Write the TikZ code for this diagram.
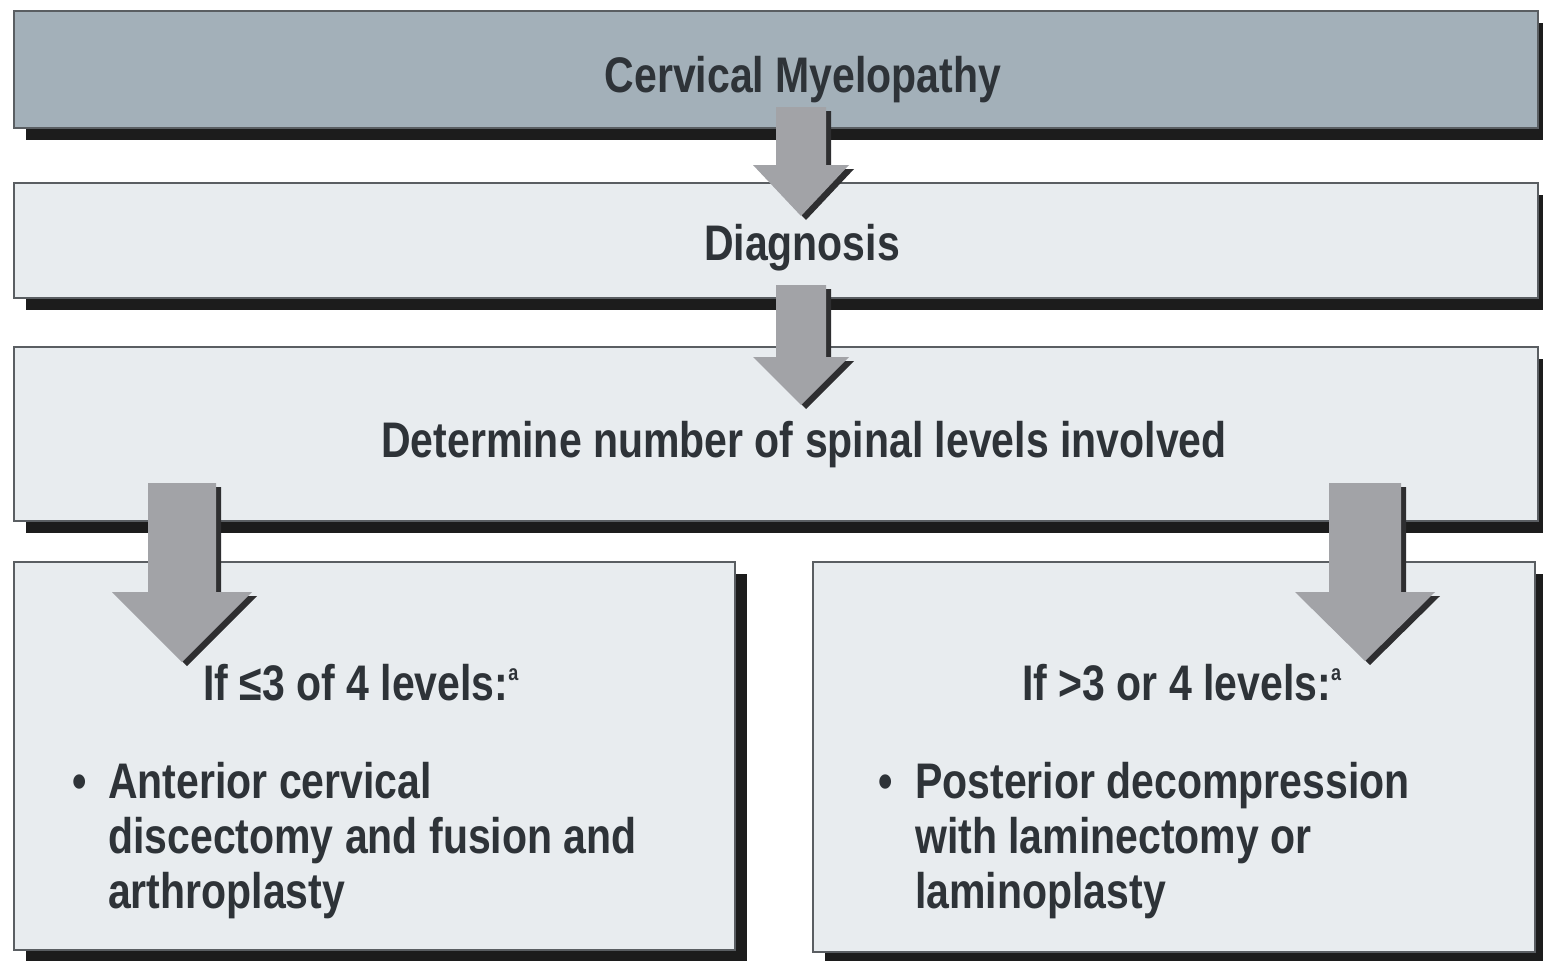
\documentclass[tikz,border=0pt]{standalone}
\usepackage{fontspec}
\setmainfont[FakeStretch=0.82]{Liberation Sans}
\definecolor{topfill}{HTML}{A3B0B9}
\definecolor{lightfill}{HTML}{E8ECEF}
\definecolor{edgegray}{HTML}{5A5E62}
\definecolor{shadowblk}{HTML}{1C1C1C}
\definecolor{arrowgray}{HTML}{A2A3A7}
\definecolor{arrowdark}{HTML}{2E2E30}
\definecolor{txtcol}{HTML}{2E3338}
\newcommand\blockarr[7]{% name, cx, top, shaft hw, base, head hw, tip
  \fill[arrowdark] ($(#2-#4,#3)+(5,4)$) -- ($(#2+#4,#3)+(5,4)$) -- ($(#2+#4,#5)+(5,4)$) -- ($(#2+#6,#5)+(5,4)$) -- ($(#2,#7)+(5,4)$) -- ($(#2-#6,#5)+(5,4)$) -- ($(#2-#4,#5)+(5,4)$) -- cycle;
  \fill[arrowgray] (#2-#4,#3) coordinate (#1-top) -- (#2+#4,#3) -- (#2+#4,#5) -- (#2+#6,#5) -- (#2,#7) coordinate (#1-tip) -- (#2-#6,#5) -- (#2-#4,#5) -- cycle;
}
\newcommand\supa{\raisebox{20pt}{\fontsize{22}{22}\selectfont a}}
\usetikzlibrary{calc}
\begin{document}
\begin{tikzpicture}[x=1pt,y=-1pt,
  boxbase/.style={draw=edgegray, line width=1.6pt, anchor=north west, inner sep=0pt, outer sep=0pt},
  topbox/.style={boxbase, fill=topfill},
  lightbox/.style={boxbase, fill=lightfill},
  shadowbox/.style={fill=shadowblk, anchor=north west, inner sep=0pt, outer sep=0pt, draw=none},
  txt/.style={font=\fontsize{50}{55}\selectfont\bfseries, text=txtcol, inner sep=0pt, anchor=base},
  txtl/.style={txt, anchor=base west}
]
\useasboundingbox (0,0) rectangle (1543,961);
\fill[white] (0,0) rectangle (1543,961);

% shadows
\node[shadowbox, minimum width=1524, minimum height=117] (s1) at (26,23) {};
\node[shadowbox, minimum width=1524, minimum height=115] (s2) at (26,195) {};
\node[shadowbox, minimum width=1524, minimum height=174] (s3) at (26,359) {};
\node[shadowbox, minimum width=721, minimum height=388] (s4) at (26,574) {};
\node[shadowbox, minimum width=722, minimum height=390] (s5) at (825,574) {};

% boxes
\node[topbox, minimum width=1524, minimum height=117] (b1) at (14,11) {};
\node[lightbox, minimum width=1524, minimum height=115] (b2) at (14,183) {};
\node[lightbox, minimum width=1524, minimum height=174] (b3) at (14,347) {};
\node[lightbox, minimum width=721, minimum height=388] (b4) at (14,562) {};
\node[lightbox, minimum width=722, minimum height=390] (b5) at (813,562) {};

% arrows
\blockarr{a1}{801}{107}{25}{165}{48}{216}
\blockarr{a2}{801}{285}{25}{357}{48}{405}
\blockarr{a3}{182}{483}{34}{592}{70}{662}
\blockarr{a4}{1365}{483}{36}{592}{70}{661}

% texts
\node[txt] (t1) at (803,92) {Cervical Myelopathy};
\node[txt] (t2) at (802,260) {Diagnosis};
\node[txt] (t3) at (804,457) {Determine number of spinal levels involved};

\node[txtl] (l0) at (203,700) {If ≤3 of 4 levels:\supa};
\node[txtl] (lb) at (72,798) {•};
\node[txtl] (l1) at (108,798) {Anterior cervical};
\node[txtl] (l2) at (108,853) {discectomy and fusion and};
\node[txtl] (l3) at (108,908) {arthroplasty};

\node[txtl] (r0) at (1022,700) {If >3 or 4 levels:\supa};
\node[txtl] (rb) at (878,798) {•};
\node[txtl] (r1) at (915,798) {Posterior decompression};
\node[txtl] (r2) at (915,853) {with laminectomy or};
\node[txtl] (r3) at (915,908) {laminoplasty};
\end{tikzpicture}
\end{document}
